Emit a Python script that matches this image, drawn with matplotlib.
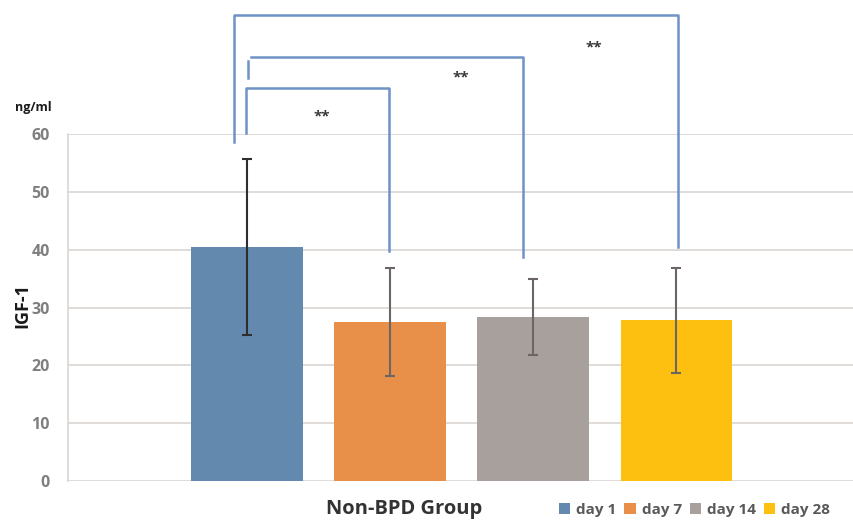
import matplotlib
matplotlib.use("Agg")
import matplotlib.pyplot as plt
from matplotlib.patches import Patch

plt.rcParams['font.family'] = ['Open Sans', 'DejaVu Sans']

series = ["day 1", "day 7", "day 14", "day 28"]
means = [40.4, 27.5, 28.4, 27.8]
errors = [15.2, 9.3, 6.6, 9.1]
colors = ["#6389AF", "#E8904A", "#A7A09D", "#FDC010"]
err_colors = ["#2E2E2E", "#6B6563", "#6B6563", "#6B6563"]
yticks = [0, 10, 20, 30, 40, 50, 60]
group_label = "Non-BPD Group"

# significance brackets: (x_left, x_right, y_top, y_left_bottom, y_right_bottom, label_x, label_y)
brackets = [
    (-0.01, 0.99, 67.9, 60.1, 39.8, 0.52, 63.0),
    (0.03, 1.93, 73.4, 72.6, 38.8, 1.49, 69.7),
    (-0.09, 3.01, 80.5, 58.6, 40.5, 2.42, 75.0),
]
labels = ["**", "**", "**"]

fig = plt.figure(figsize=(8.54, 5.27), dpi=100)
ax = fig.add_axes([68/854, 46/527, 1 - 68/854, (481-134)/527])

x = list(range(len(series)))
for i in x:
    ax.bar(i, means[i], width=0.78, color=colors[i], zorder=3, label=series[i])
    ax.errorbar(i, means[i], yerr=errors[i], fmt='none', ecolor=err_colors[i],
                elinewidth=1.5, capsize=3.5, capthick=1.5, zorder=4)

ax.set_ylim(0, 60)
ax.set_xlim(-1.25, 4.24)
ax.set_yticks(yticks)
ax.set_yticklabels([str(t) for t in yticks], color="#7F7F7F", fontsize=11.5, fontweight='bold')
ax.set_xticks([])
ax.grid(axis='y', color="#DAD5D2", linewidth=1.2, zorder=0)
for s in ["top", "right", "bottom"]:
    ax.spines[s].set_visible(False)
ax.spines["left"].set_color("#DAD5D2")
ax.spines["left"].set_linewidth(1.2)
ax.tick_params(axis='y', length=0, pad=13)

bc = "#6F93C6"
for (xl, xr, yt, ylb, yrb, lx, ly), lab in zip(brackets, labels):
    if ylb > yt - 2:
        ax.plot([xl - 0.02, xl - 0.02], [ylb, ylb - 2.9], color=bc, lw=1.8, clip_on=False, zorder=5)
        ax.plot([xl, xr, xr], [yt, yt, yrb], color=bc, lw=1.8, clip_on=False, zorder=5)
    else:
        ax.plot([xl, xl, xr, xr], [ylb, yt, yt, yrb], color=bc, lw=1.8, clip_on=False, zorder=5)
    ax.text(lx, ly, lab, ha='center', va='center', fontsize=11, fontweight='bold', color="#3A3A3A")

fig.text(15/854, 1 - 107/527, "ng/ml", fontsize=9, fontweight='bold', color="#1A1A1A", ha='left', va='center')
fig.text(22/854, 1 - 306/527, "IGF-1", fontsize=13, fontweight='bold', color="#1A1A1A",
         rotation=90, ha='center', va='center')
fig.text(404/854, 1 - 509/527, group_label, fontsize=14.5, fontweight='bold', color="#333333",
         ha='center', va='center')

handles = [Patch(facecolor=c, edgecolor='none') for c in colors]
leg = fig.legend(handles, series, loc='center right', bbox_to_anchor=(844/854, 1 - 510/527), ncol=4,
                 frameon=False, handlelength=0.75, handleheight=0.75, handletextpad=0.4,
                 columnspacing=0.5, prop={'size': 11, 'weight': 'bold'})
for t in leg.get_texts():
    t.set_color("#595959")

fig.savefig("out.png", dpi=100)
